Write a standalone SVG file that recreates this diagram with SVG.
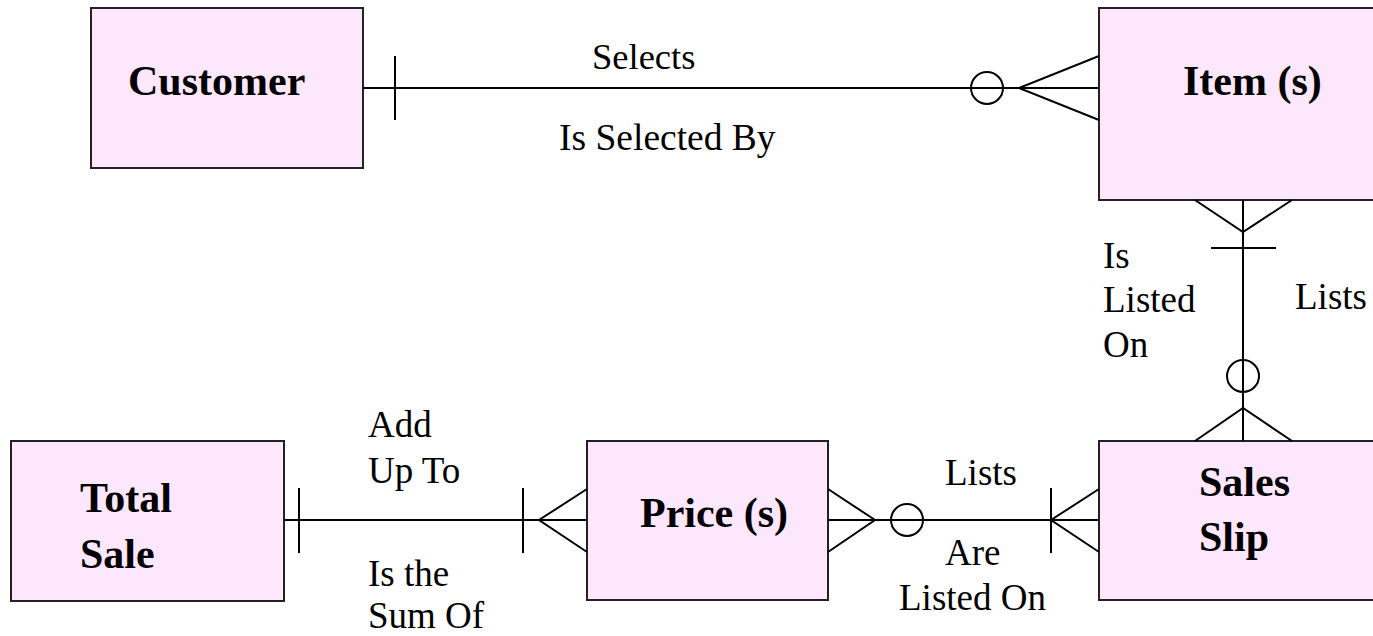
<svg xmlns="http://www.w3.org/2000/svg" width="1373" height="636" viewBox="0 0 1373 636">
<style>
.box{fill:#FDE7FD;stroke:#222;stroke-width:2}
.ln{fill:none;stroke:#000;stroke-width:2}
.nt{font-family:"Liberation Serif","Times New Roman",serif;font-weight:bold;font-size:42px;fill:#000}
.lb{font-family:"Liberation Serif","Times New Roman",serif;font-size:37px;fill:#000}
</style>
<rect width="1373" height="636" fill="#fff"/>
<g id="customer"><rect class="box" x="91" y="8" width="272" height="160"/><text class="nt" x="128" y="95">Customer</text></g>
<g id="items"><rect class="box" x="1099" y="8" width="285" height="192"/><text class="nt" x="1183" y="95">Item (s)</text></g>
<g id="total-sale"><rect class="box" x="11" y="441" width="273" height="160"/><text class="nt" x="80" y="512">Total</text><text class="nt" x="80" y="568">Sale</text></g>
<g id="prices"><rect class="box" x="587" y="441" width="241" height="159"/><text class="nt" x="640" y="527">Price (s)</text></g>
<g id="sales-slip"><rect class="box" x="1099" y="441" width="285" height="159"/><text class="nt" x="1199" y="496">Sales</text><text class="nt" x="1199" y="551">Slip</text></g>
<g id="connectors">
<path class="ln" d="M363 88H1099M395 56V120M1099 56L1019 88L1099 120"/>
<circle class="ln" cx="987" cy="88" r="16"/>
<path class="ln" d="M1243 200V441M1195 200L1243 232L1292 200M1211 248H1276M1195 441L1243 408L1292 441"/>
<circle class="ln" cx="1243" cy="376" r="16"/>
<path class="ln" d="M284 520H587M299 488V553M523 488V553M587 489L539 520L587 552"/>
<path class="ln" d="M828 520H1099M828 489L875 520L828 552M1051 488V553M1099 489L1051 520L1099 552"/>
<circle class="ln" cx="907" cy="520" r="16" fill="#fff"/>
</g>
<g id="labels">
<text class="lb" x="592" y="69" style="font-size:36.5px">Selects</text>
<text class="lb" x="559" y="150" style="font-size:37.5px">Is Selected By</text>
<text class="lb" x="1103" y="268">Is</text>
<text class="lb" x="1103" y="312">Listed</text>
<text class="lb" x="1103" y="357">On</text>
<text class="lb" x="1295" y="309">Lists</text>
<text class="lb" x="368" y="437">Add</text>
<text class="lb" x="368" y="483">Up To</text>
<text class="lb" x="368" y="586">Is the</text>
<text class="lb" x="368" y="628">Sum Of</text>
<text class="lb" x="945" y="485">Lists</text>
<text class="lb" x="945" y="565">Are</text>
<text class="lb" x="899" y="610">Listed On</text>
</g>
</svg>
